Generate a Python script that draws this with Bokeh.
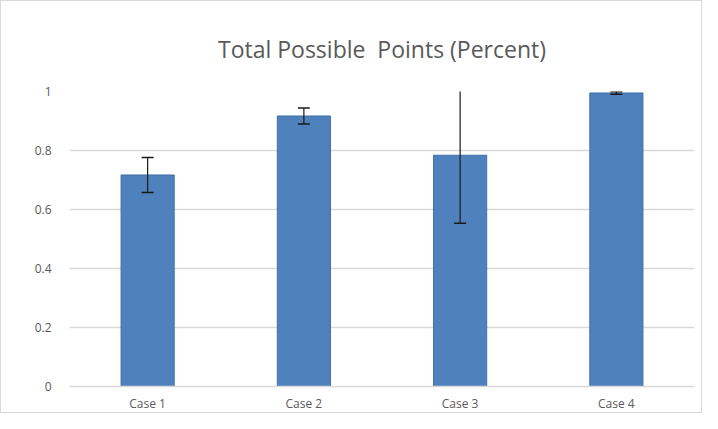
from bokeh.plotting import figure
from bokeh.models import FixedTicker, NumeralTickFormatter, Title, Range1d
from bokeh.embed import file_html
from bokeh.resources import INLINE

categories = ["Case 1", "Case 2", "Case 3", "Case 4"]
values = [0.717, 0.917, 0.784, 0.995]
errors = [0.059, 0.027, 0.231, 0.004]
y_ticks = [0, 0.2, 0.4, 0.6, 0.8, 1.0]

upper = [v + e for v, e in zip(values, errors)]
lower = [v - e for v, e in zip(values, errors)]

p = figure(x_range=categories, y_range=Range1d(0, 1.0), width=702, height=413,
           output_backend="svg", toolbar_location=None,
           min_border_left=68, min_border_right=9, min_border_top=90, min_border_bottom=24)
p.background_fill_color = "white"
p.border_fill_color = "white"
p.outline_line_color = None
p.styles = {"border": "1px solid #d9d9d9", "box-sizing": "border-box"}

t = Title(text="Total Possible\u00a0 Points (Percent)", align="center",
          text_font="Open Sans", text_font_size="23px", text_font_style="normal",
          text_color="#595959", standoff=54)
p.add_layout(t, "above")

p.vbar(x=categories, top=values, width=0.34, fill_color="#4f81bd", line_color="#3d6fa6", line_width=1)
p.segment(x0=categories, x1=categories, y0=lower, y1=upper, line_color="#1a1a1a", line_width=1.2)
p.scatter(x=categories, y=upper, marker="dash", size=12, line_color="#1a1a1a", line_width=1.5)
p.scatter(x=categories, y=lower, marker="dash", size=12, line_color="#1a1a1a", line_width=1.5)

p.xgrid.grid_line_color = None
p.ygrid.grid_line_color = "#d9d9d9"
p.ygrid.grid_line_width = 1.5

p.yaxis.ticker = FixedTicker(ticks=y_ticks)
p.yaxis.formatter = NumeralTickFormatter(format="0.[0]")
p.yaxis.axis_line_color = None
p.yaxis.major_tick_line_color = None
p.yaxis.minor_tick_line_color = None
p.yaxis.major_tick_out = 0
p.yaxis.major_label_standoff = 18
p.xaxis.axis_line_color = "#d9d9d9"
p.xaxis.axis_line_width = 1.5
p.xaxis.major_tick_line_color = None
p.xaxis.major_tick_out = 0
p.xaxis.major_tick_in = 0
p.xaxis.major_label_standoff = 8
for ax in (p.xaxis, p.yaxis):
    ax.major_label_text_font = "Open Sans"
    ax.major_label_text_font_size = "12px"
    ax.major_label_text_color = "#595959"

open("out.html", "w").write(file_html(p, INLINE))
